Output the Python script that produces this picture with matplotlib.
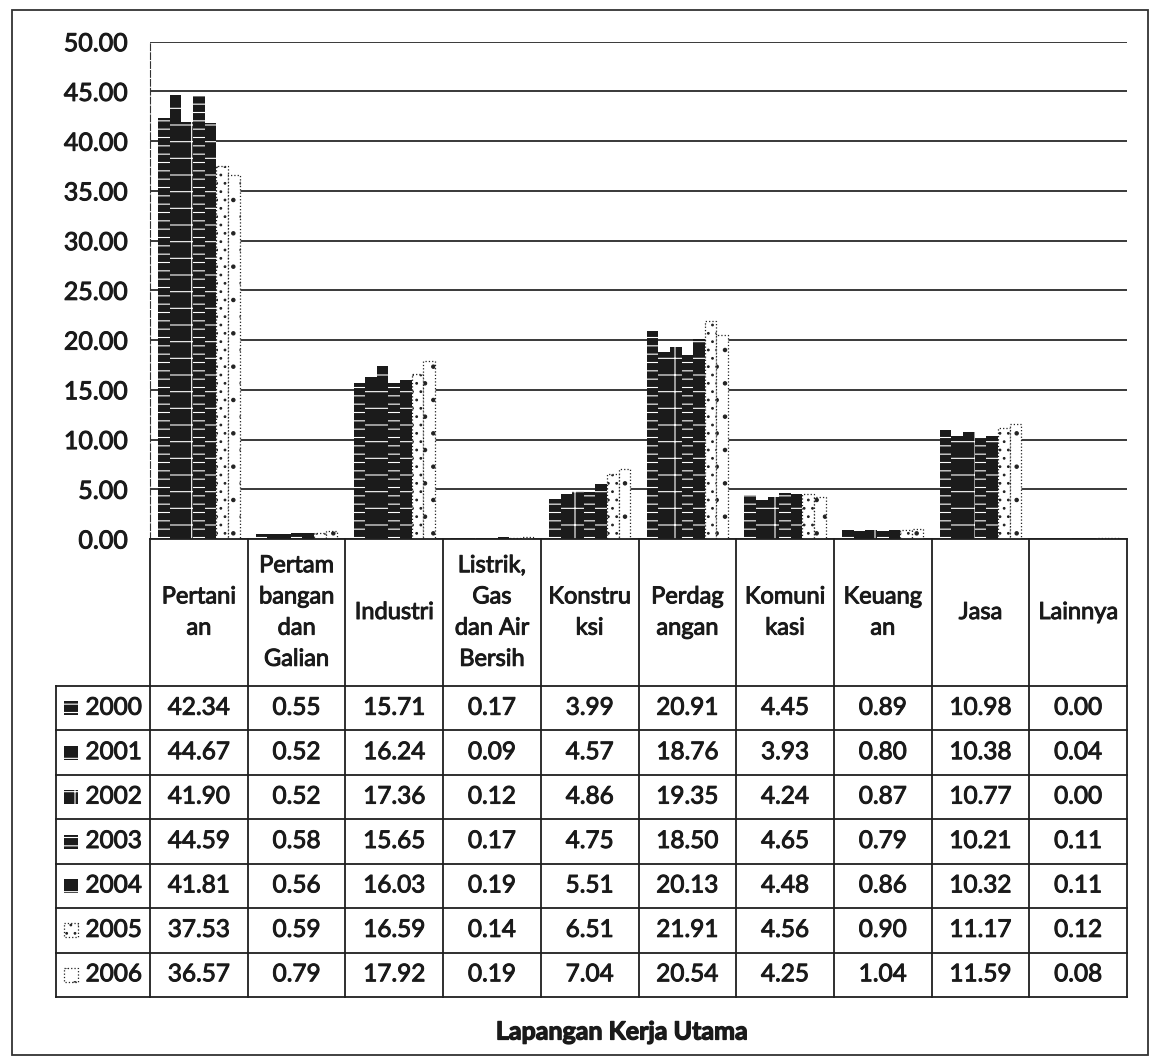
import numpy as np
import matplotlib.pyplot as plt
import matplotlib.patheffects as pe
from matplotlib.patches import Rectangle

plt.rcParams['font.family'] = ['Lato', 'DejaVu Sans']
plt.rcParams['hatch.linewidth'] = 0.8

# Lapangan kerja utama, persentase per tahun
sektor = ['Pertani\nan', 'Pertam\nbangan\ndan\nGalian', 'Industri',
          'Listrik,\nGas\ndan Air\nBersih', 'Konstru\nksi', 'Perdag\nangan',
          'Komuni\nkasi', 'Keuang\nan', 'Jasa', 'Lainnya']
tahun = ['2000', '2001', '2002', '2003', '2004', '2005', '2006']

v2000 = [42.34, 0.55, 15.71, 0.17, 3.99, 20.91, 4.45, 0.89, 10.98, 0.00]
v2001 = [44.67, 0.52, 16.24, 0.09, 4.57, 18.76, 3.93, 0.80, 10.38, 0.04]
v2002 = [41.90, 0.52, 17.36, 0.12, 4.86, 19.35, 4.24, 0.87, 10.77, 0.00]
v2003 = [44.59, 0.58, 15.65, 0.17, 4.75, 18.50, 4.65, 0.79, 10.21, 0.11]
v2004 = [41.81, 0.56, 16.03, 0.19, 5.51, 20.13, 4.48, 0.86, 10.32, 0.11]
v2005 = [37.53, 0.59, 16.59, 0.14, 6.51, 21.91, 4.56, 0.90, 11.17, 0.12]
v2006 = [36.57, 0.79, 17.92, 0.19, 7.04, 20.54, 4.25, 1.04, 11.59, 0.08]
nilai = [v2000, v2001, v2002, v2003, v2004, v2005, v2006]

# gaya batang: tahun 2000-2004 gelap, 2005-2006 titik-titik
gelap = dict(facecolor='#1b1b1b', edgecolor='white', linewidth=0)
terang = dict(facecolor='white', edgecolor='#222222', linewidth=0.9, linestyle=':')
gaya = [dict(gelap, hatch='--'), dict(gelap, hatch='-'), dict(gelap, hatch='+'),
        dict(gelap, hatch='--'), dict(gelap, hatch='-'),
        dict(terang, hatch='..'), dict(terang, hatch='.')]

# teks sedikit ditebalkan
tebal = [pe.withStroke(linewidth=0.7, foreground='#1a1a1a')]

W, H = 1154, 1063
fig = plt.figure(figsize=(W / 100, H / 100), dpi=100)


def kotak(x0, y0, x1, y1):
    return [x0 / W, 1 - y1 / H, (x1 - x0) / W, (y1 - y0) / H]


X0, X1 = 150, 1127
Y_ATAS, Y_NOL = 41.7, 539
ax = fig.add_axes(kotak(X0, Y_ATAS, X1, Y_NOL))

n = len(sektor)
lebar = 0.119
pos = np.arange(n) + 0.5
for j, th in enumerate(tahun):
    ax.bar(pos + (j - 3) * lebar, nilai[j], width=lebar, zorder=3, **gaya[j])

ax.set_xlim(0, n)
ax.set_ylim(0, 50)
ax.set_yticks(np.arange(0, 51, 5))
ax.set_yticklabels([f'{t:.2f}' for t in np.arange(0, 51, 5)], fontsize=18, color='#1a1a1a')
for lbl in ax.get_yticklabels():
    lbl.set_path_effects(tebal)
ax.tick_params(axis='y', length=0, pad=16)
ax.set_xticks([])
ax.grid(axis='y', color='#2a2a2a', linewidth=1.3, zorder=0)
for s in ['top', 'right', 'bottom']:
    ax.spines[s].set_visible(False)
ax.spines['left'].set_color('#333333')
ax.spines['left'].set_linestyle((0, (6, 2)))

# tabel data di bawah grafik, digambar dalam koordinat piksel
ov = fig.add_axes([0, 0, 1, 1])
ov.set_xlim(0, W)
ov.set_ylim(H, 0)
ov.axis('off')
ov.patch.set_alpha(0)

garis = dict(color='#1f1f1f', linewidth=1.3)
kolom = np.linspace(X0, X1, n + 1)
Y_HDR = 686
Y_BAWAH = 997
baris = np.linspace(Y_HDR, Y_BAWAH, len(tahun) + 1)
X_LEG = 56

# bingkai luar
ov.add_patch(Rectangle((12, 10), 1136, 1045, fill=False, edgecolor='#333333', linewidth=1.3))

for x in kolom:
    ov.plot([x, x], [Y_NOL, Y_BAWAH], **garis)
ov.plot([X_LEG, X_LEG], [Y_HDR, Y_BAWAH], **garis)
ov.plot([X0, X1], [Y_NOL, Y_NOL], **garis)
for y in baris:
    ov.plot([X_LEG, X1], [y, y], **garis)

for i, nama in enumerate(sektor):
    ov.text((kolom[i] + kolom[i + 1]) / 2, (Y_NOL + Y_HDR) / 2, nama, ha='center', va='center',
            fontsize=17, color='#1a1a1a', linespacing=1.6, path_effects=tebal)

for j, th in enumerate(tahun):
    yc = (baris[j] + baris[j + 1]) / 2
    ov.add_patch(Rectangle((64, yc - 7), 14, 14, **gaya[j]))
    ov.text(142, yc, th, ha='right', va='center', fontsize=17.5, color='#1a1a1a',
            path_effects=tebal)
    for i in range(n):
        ov.text((kolom[i] + kolom[i + 1]) / 2, yc, f'{nilai[j][i]:.2f}', ha='center',
                va='center', fontsize=17.5, color='#1a1a1a', path_effects=tebal)

ov.text(622, 1032, 'Lapangan Kerja Utama', ha='center', va='center', fontsize=18,
        fontweight='bold', color='#1a1a1a',
        path_effects=[pe.withStroke(linewidth=0.9, foreground='#1a1a1a')])

fig.savefig('out.png', dpi=100, facecolor='white')
